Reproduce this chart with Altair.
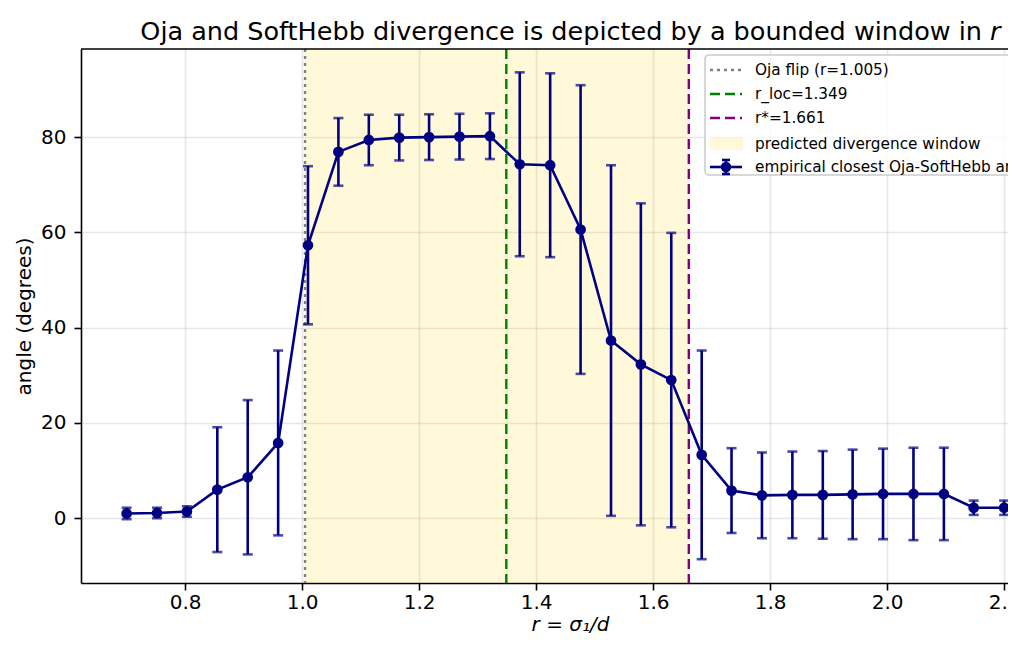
import altair as alt
import pandas as pd

# ---- data ----
r_vals = [0.700, 0.752, 0.803, 0.855, 0.907, 0.959, 1.010, 1.062, 1.114, 1.166,
          1.217, 1.269, 1.321, 1.372, 1.424, 1.476, 1.528, 1.579, 1.631, 1.683,
          1.734, 1.786, 1.838, 1.890, 1.941, 1.993, 2.045, 2.097, 2.148, 2.200]
angle_mean = [1.0, 1.1, 1.4, 6.0, 8.6, 15.8, 57.3, 76.9, 79.4, 79.9,
              80.0, 80.1, 80.2, 74.3, 74.1, 60.6, 37.3, 32.3, 29.0, 13.3,
              5.8, 4.8, 4.9, 4.9, 5.0, 5.1, 5.1, 5.1, 2.2, 2.2]
angle_err = [1.2, 1.1, 1.1, 13.1, 16.2, 19.4, 16.6, 7.1, 5.3, 4.8,
             4.8, 4.8, 4.8, 19.3, 19.3, 30.3, 36.8, 33.8, 30.9, 21.9,
             8.9, 9.0, 9.1, 9.2, 9.4, 9.5, 9.7, 9.7, 1.5, 1.5]

oja_flip = 1.005
r_loc = 1.349
r_star = 1.661

x_ticks = [0.8, 1.0, 1.2, 1.4, 1.6, 1.8, 2.0, 2.2]
y_ticks = [0, 20, 40, 60, 80]

legend_labels = ["Oja flip (r=1.005)", "r_loc=1.349", "r*=1.661",
                 "predicted divergence window", "empirical closest Oja-SoftHebb angle"]

title_main = "Oja and SoftHebb divergence is depicted by a bounded window in"
title_var = "r"

FONT = "DejaVu Sans"
NAVY = "#000080"
W, H = 927, 534
LW = 2.6

df = pd.DataFrame({"r": r_vals, "angle": angle_mean, "err": angle_err})
df["lo"] = df["angle"] - df["err"]
df["hi"] = df["angle"] + df["err"]

xscale = alt.Scale(domain=[0.622, 2.2066], nice=False, zero=False)
yscale = alt.Scale(domain=[-13.6, 98.5], nice=False, zero=False)

xax = alt.Axis(values=x_ticks, format=".1f", title="r = σ₁/d", titleFontStyle="italic",
               labelBaseline="alphabetic", labelPadding=18, titleX=489, titleY=47,
               titleBaseline="alphabetic", titleAlign="center")
yax = alt.Axis(values=y_ticks, title="angle (degrees)", labelPadding=8,
               titleX=-51, titleY=H / 2, titleBaseline="alphabetic", titleAngle=270)

X = alt.X("r:Q", scale=xscale, axis=xax)
Y = alt.Y("angle:Q", scale=yscale, axis=yax)

# shaded window
span_df = pd.DataFrame({"a": [oja_flip], "b": [r_star]})
span = alt.Chart(span_df).mark_rect(color="#ffd700", opacity=0.15).encode(
    x=alt.X("a:Q", scale=xscale, axis=xax), x2="b:Q",
    y=alt.value(0), y2=alt.value(H))

vl = []
for val, col, dash in [(oja_flip, "#808080", [3, 4]), (r_loc, "#008000", [10, 5]), (r_star, "#800080", [10, 5])]:
    vl.append(alt.Chart(pd.DataFrame({"v": [val]})).mark_rule(
        color=col, strokeWidth=2.4, strokeDash=dash).encode(
        x=alt.X("v:Q", scale=xscale, axis=xax), y=alt.value(0), y2=alt.value(H)))

base = alt.Chart(df)
ebar = base.mark_rule(color=NAVY, strokeWidth=LW).encode(
    x=X, y=alt.Y("lo:Q", scale=yscale, axis=yax), y2="hi:Q")
cap_lo = base.mark_tick(color=NAVY, orient="horizontal", size=10, thickness=LW).encode(
    x=X, y=alt.Y("lo:Q", scale=yscale, axis=yax))
cap_hi = base.mark_tick(color=NAVY, orient="horizontal", size=10, thickness=LW).encode(
    x=X, y=alt.Y("hi:Q", scale=yscale, axis=yax))
line = base.mark_line(color=NAVY, strokeWidth=LW).encode(x=X, y=Y)
pts = base.mark_circle(color=NAVY, opacity=1, size=115).encode(x=X, y=Y)

one = pd.DataFrame({"k": [0]})

# top spine
top_spine = alt.Chart(one).mark_rule(color="black", strokeWidth=1.6).encode(
    x=alt.value(0), x2=alt.value(W), y=alt.value(0))

# ---- legend (inside the plot, clipped at the right edge like the reference) ----
lx0, lx1, lxc, ltx = 629, 661, 645, 674
rows = [21, 45, 69, 95, 118]
leg = []
leg.append(alt.Chart(one).mark_rect(fill="white", fillOpacity=0.8, stroke="#cccccc",
                                    strokeWidth=1.6, cornerRadius=4, clip=True).encode(
    x=alt.value(624), x2=alt.value(W + 40), y=alt.value(6), y2=alt.value(126)))
for yy, col, dash in [(rows[0], "#808080", [3, 4]), (rows[1], "#008000", [10, 5]), (rows[2], "#800080", [10, 5])]:
    leg.append(alt.Chart(one).mark_rule(color=col, strokeWidth=2.4, strokeDash=dash).encode(
        x=alt.value(lx0), x2=alt.value(lx1), y=alt.value(yy)))
leg.append(alt.Chart(one).mark_rect(color="#ffd700", opacity=0.15).encode(
    x=alt.value(lx0), x2=alt.value(lx1 + 1), y=alt.value(rows[3] - 7), y2=alt.value(rows[3] + 6)))
leg.append(alt.Chart(one).mark_rule(color=NAVY, strokeWidth=LW).encode(
    x=alt.value(lx0), x2=alt.value(lx1), y=alt.value(rows[4])))
leg.append(alt.Chart(one).mark_rule(color=NAVY, strokeWidth=LW).encode(
    x=alt.value(lxc), y=alt.value(rows[4] - 7), y2=alt.value(rows[4] + 7)))
for dy in (-7, 7):
    leg.append(alt.Chart(one).mark_rule(color=NAVY, strokeWidth=LW).encode(
        x=alt.value(lxc - 4), x2=alt.value(lxc + 4), y=alt.value(rows[4] + dy)))
leg.append(alt.Chart(one).mark_point(color=NAVY, filled=True, opacity=1, size=110, shape="circle").encode(
    x=alt.value(lxc), y=alt.value(rows[4])))
for lab, yy in zip(legend_labels, rows):
    leg.append(alt.Chart(one).mark_text(text=lab, font=FONT, fontSize=15.3, color="black",
                                        align="left", baseline="middle", clip=True).encode(
        x=alt.value(ltx), y=alt.value(yy)))

# ---- title (plain part + italic r) ----
t1 = alt.Chart(one).mark_text(text=title_main, font=FONT, fontSize=25.5, color="black",
                              align="right", baseline="alphabetic").encode(
    x=alt.value(901), y=alt.value(-9))
t2 = alt.Chart(one).mark_text(text=title_var, font=FONT, fontSize=25.5, color="black",
                              fontStyle="italic", align="left", baseline="alphabetic").encode(
    x=alt.value(909), y=alt.value(-9))

chart = alt.layer(span, *vl, ebar, cap_lo, cap_hi, line, pts, top_spine, *leg, t1, t2).properties(
    width=W, height=H,
    autosize=alt.AutoSizeParams(type="none"),
    padding={"left": 73, "top": 41, "right": 0, "bottom": 53},
).configure_view(stroke=None).configure_axis(
    labelFont=FONT, titleFont=FONT, labelFontSize=20, titleFontSize=20,
    labelColor="black", titleColor="black", titleFontWeight="normal",
    domainColor="black", domainWidth=1.6, tickColor="black", tickWidth=1.6, tickSize=7,
    gridColor="#b0b0b0", gridOpacity=0.3, gridWidth=1.6,
)

chart.save("out.html", embed_options={"renderer": "svg", "actions": False})
